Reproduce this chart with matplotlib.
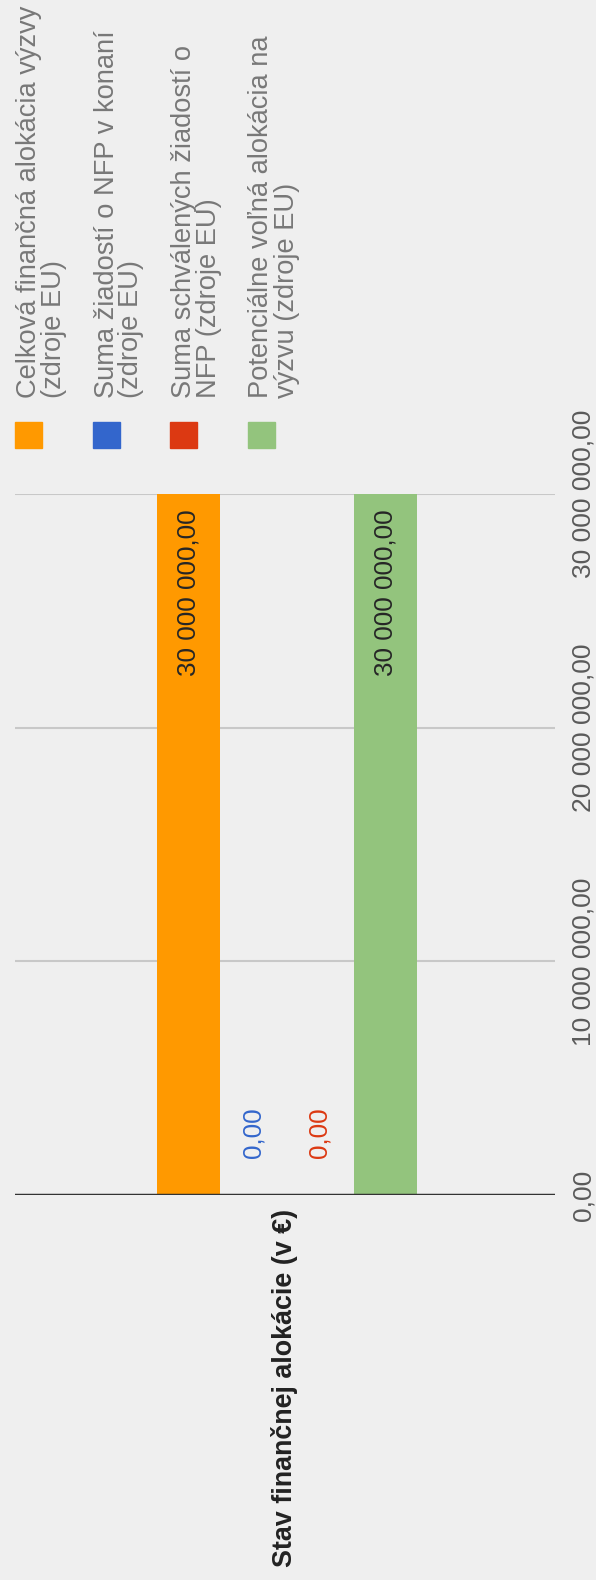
import matplotlib.pyplot as plt
from matplotlib.patches import Rectangle

plt.rcParams['font.family'] = ['Liberation Sans', 'DejaVu Sans']

# data
kategoria = "Stav finančnej alokácie (v €)"
serie = [
    "Celková finančná alokácia výzvy\n(zdroje EU)",
    "Suma žiadostí o NFP v konaní\n(zdroje EU)",
    "Suma schválených žiadostí o\nNFP (zdroje EU)",
    "Potenciálne voľná alokácia na\nvýzvu (zdroje EU)",
]
hodnoty = [30000000, 0, 0, 30000000]
farby = ["#ff9900", "#3366cc", "#dc3912", "#93c47d"]
farby_popisov = ["#262626", "#3366cc", "#dc3912", "#262626"]
y_ticky = [0, 10000000, 20000000, 30000000]

W, H = 596, 1580
BG = "#efefef"


def fx(px):
    return px / W


def fy(py):
    return 1 - py / H


def sk_format(v):
    s = f"{v:,.2f}"
    return s.replace(",", " ").replace(".", ",")


fig = plt.figure(figsize=(W / 100, H / 100), dpi=100, facecolor=BG)
ax = fig.add_axes([fx(15), fy(1195), (555 - 15) / W, (1195 - 494) / H])
ax.set_facecolor(BG)

sirka = 0.1167
krok = 0.1217
n = len(hodnoty)
for i, (v, c, lc) in enumerate(zip(hodnoty, farby, farby_popisov)):
    xpos = 0.5 + (i - (n - 1) / 2) * krok + 0.003
    ax.bar(xpos, v, width=sirka, color=c, zorder=2)
    if v > 0:
        ax.annotate(sk_format(v), (xpos, v), xytext=(0, -11), textcoords="offset points",
                    rotation=90, ha="center", va="top", fontsize=18.7, color=lc, zorder=3)
    else:
        ax.annotate(sk_format(v), (xpos, v), xytext=(0, 27), textcoords="offset points",
                    rotation=90, ha="center", va="bottom", fontsize=18.7, color=lc, zorder=3)

ax.set_xlim(0, 1)
ax.set_ylim(0, 30000000)
ax.set_yticks(y_ticky)
ax.set_yticklabels([sk_format(t) for t in y_ticky])
ax.yaxis.tick_right()
ax.tick_params(axis="y", length=0, pad=12, labelrotation=90, labelsize=19, labelcolor="#5a5a5a")
for lab in ax.get_yticklabels():
    lab.set_va("center")
ax.set_xticks([0.5])
ax.set_xticklabels([kategoria], rotation=90, ha="center", va="top",
                   fontsize=19.4, fontweight="bold", color="#222222")
ax.tick_params(axis="x", length=0, pad=10)

for t in y_ticky[1:]:
    ax.axhline(t, color="#c8c8c8", lw=1.5, zorder=1)
ax.axhline(0, color="#333333", lw=2.5, zorder=4)
for s in ax.spines.values():
    s.set_visible(False)

# legenda
for i, (meno, c) in enumerate(zip(serie, farby)):
    x0 = 15 + i * 77.5
    fig.add_artist(Rectangle((fx(x0), fy(448)), 27 / W, 26 / H, color=c,
                             transform=fig.transFigure))
    fig.text(fx(x0 + 1), fy(398), meno, rotation=90, ha="left", va="bottom",
             multialignment="left", linespacing=0.95, fontsize=19.6, color="#787878")

fig.savefig("out.png", dpi=100, facecolor=BG)
